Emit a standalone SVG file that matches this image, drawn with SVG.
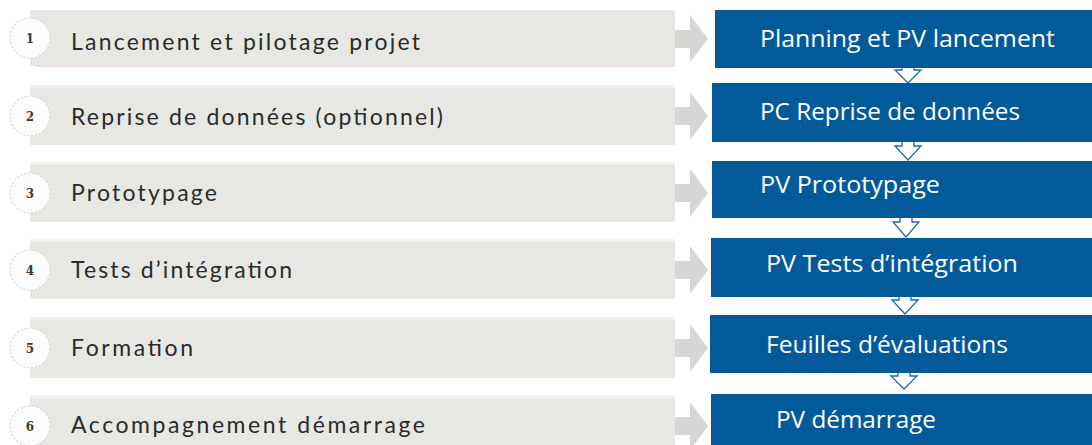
<svg xmlns="http://www.w3.org/2000/svg" width="1092" height="445" viewBox="0 0 1092 445">
<style>
.bar{fill:#e7e7e4}
.bartop{fill:#f2f2f0}
.garrow{fill:#d6d6d4}
.badge{fill:#fbfbfb;stroke:#d6d6d6;stroke-width:1.2;stroke-dasharray:2 2}
.num{font-family:"DejaVu Serif",serif;font-weight:bold;font-size:12px;fill:#3a3a3a;text-anchor:middle}
.lbl{font-family:"Lato","Open Sans",sans-serif;font-size:23px;fill:#2b2b2b}
.box{fill:#035a9b}
.btxt{font-family:"Open Sans","Noto Sans",sans-serif;font-size:24px;fill:#ffffff}
.darrow{fill:#ffffff;stroke:#1e67a8;stroke-width:1.3}
</style>
<rect width="1092" height="445" fill="#ffffff"/>
<g id="step1">
<rect class="bar" x="30" y="10" width="645" height="56"/>
<rect x="35" y="65" width="640" height="2" fill="#f1d8ef"/>
<path class="garrow" d="M675 30 H690 V15 L708 39 L690 62 V48 H675 Z"/>
<circle class="badge" cx="30" cy="38" r="20"/>
<text class="num" x="30" y="43">1</text>
<text class="lbl" x="71" y="50" textLength="349" lengthAdjust="spacing">Lancement et pilotage projet</text>
</g>
<g id="step2">
<rect class="bartop" x="30" y="85" width="645" height="3"/>
<rect class="bar" x="30" y="88" width="645" height="57"/>
<path class="garrow" d="M675 107 H690 V92 L708 116 L690 140 V125 H675 Z"/>
<circle class="badge" cx="30" cy="116" r="20"/>
<text class="num" x="30" y="121">2</text>
<text class="lbl" x="71" y="125" textLength="372" lengthAdjust="spacing">Reprise de données (optionnel)</text>
</g>
<g id="step3">
<rect class="bartop" x="30" y="162" width="645" height="3"/>
<rect class="bar" x="30" y="165" width="645" height="57"/>
<path class="garrow" d="M675 184 H690 V169 L708 193 L690 217 V202 H675 Z"/>
<circle class="badge" cx="30" cy="193" r="20"/>
<text class="num" x="30" y="198">3</text>
<text class="lbl" x="71" y="201" textLength="146" lengthAdjust="spacing">Prototypage</text>
</g>
<g id="step4">
<rect class="bartop" x="30" y="239" width="645" height="3"/>
<rect class="bar" x="30" y="242" width="645" height="57"/>
<path class="garrow" d="M675 261 H690 V246 L708 270 L690 294 V279 H675 Z"/>
<circle class="badge" cx="30" cy="270" r="20"/>
<text class="num" x="30" y="275">4</text>
<text class="lbl" x="71" y="278" textLength="221" lengthAdjust="spacing">Tests d’intégration</text>
</g>
<g id="step5">
<rect class="bartop" x="30" y="317" width="645" height="3"/>
<rect class="bar" x="30" y="320" width="645" height="58"/>
<path class="garrow" d="M675 339 H690 V324 L708 348 L690 372 V357 H675 Z"/>
<circle class="badge" cx="30" cy="348" r="20"/>
<text class="num" x="30" y="353">5</text>
<text class="lbl" x="71" y="356" textLength="122" lengthAdjust="spacing">Formation</text>
</g>
<g id="step6">
<rect class="bartop" x="30" y="395" width="645" height="3"/>
<rect class="bar" x="30" y="398" width="645" height="47"/>
<path class="garrow" d="M675 417 H690 V402 L708 426 L690 450 V435 H675 Z"/>
<circle class="badge" cx="30" cy="426" r="20"/>
<text class="num" x="30" y="431">6</text>
<text class="lbl" x="71" y="433" textLength="354" lengthAdjust="spacing">Accompagnement démarrage</text>
</g>
<g id="connectors">
<path class="darrow" d="M902 68 V70 H895 L908 83 L921 70 H914 V68"/>
<path class="darrow" d="M902 142 V146 H895 L908 160 L921 146 H914 V142"/>
<path class="darrow" d="M900 218 V222 H893 L906 237 L919 222 H912 V218"/>
<path class="darrow" d="M899 297 V300 H892 L905 314 L918 300 H911 V297"/>
<path class="darrow" d="M898 373 V376 H891 L904 389 L917 376 H910 V373"/>
</g>
<g id="out1"><rect class="box" x="715" y="10" width="377" height="58"/><text class="btxt" x="760" y="47" textLength="295" lengthAdjust="spacingAndGlyphs">Planning et PV lancement</text></g>
<g id="out2"><rect class="box" x="712" y="83" width="380" height="59"/><text class="btxt" x="760" y="120" textLength="260" lengthAdjust="spacingAndGlyphs">PC Reprise de données</text></g>
<g id="out3"><rect class="box" x="712" y="161" width="380" height="57"/><text class="btxt" x="760" y="193" textLength="180" lengthAdjust="spacingAndGlyphs">PV Prototypage</text></g>
<g id="out4"><rect class="box" x="711" y="238" width="381" height="59"/><text class="btxt" x="766" y="272" textLength="252" lengthAdjust="spacingAndGlyphs">PV Tests d’intégration</text></g>
<g id="out5"><rect class="box" x="710" y="315" width="382" height="58"/><text class="btxt" x="766" y="353" textLength="242" lengthAdjust="spacingAndGlyphs">Feuilles d’évaluations</text></g>
<g id="out6"><rect class="box" x="711" y="394" width="381" height="51"/><text class="btxt" x="776" y="428" textLength="160" lengthAdjust="spacingAndGlyphs">PV démarrage</text></g>
</svg>
